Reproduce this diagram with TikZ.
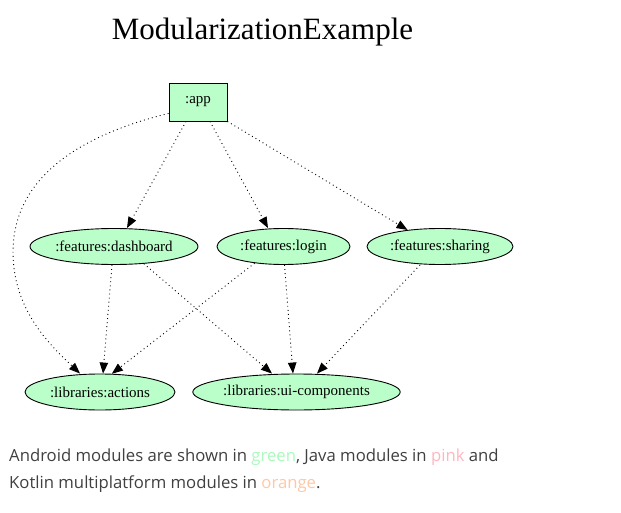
\documentclass[tikz,border=0pt]{standalone}
\usepackage{fontspec}
\setmainfont{Liberation Serif}
\newfontfamily\footfont{Open Sans}
\usetikzlibrary{arrows.meta,shapes.geometric}
\definecolor{modgreen}{RGB}{186,255,201}
\definecolor{txtgreen}{RGB}{170,250,190}
\definecolor{txtpink}{RGB}{255,182,193}
\definecolor{txtorange}{RGB}{255,200,165}
\definecolor{foottext}{RGB}{64,64,64}
\tikzset{
  modbox/.style={draw=black, line width=0.9pt, fill=modgreen, rectangle, inner sep=0pt,
    minimum width=58pt, minimum height=38pt, font=\fontsize{15}{18}\selectfont},
  modell/.style={draw=black, line width=0.9pt, fill=modgreen, ellipse, inner sep=0pt,
    minimum height=36pt, font=\fontsize{15}{18}\selectfont},
  dep/.style={line width=0.9pt, dash pattern=on 0.9pt off 3.2pt,
    -{Triangle[length=11pt,width=8.5pt]}},
  foot/.style={anchor=base west, inner sep=0pt, text=foottext,
    font=\footfont\fontsize{16.7}{20}\selectfont}
}
\begin{document}
\begin{tikzpicture}[x=1pt,y=-1pt]
\useasboundingbox[fill=white] (0,0) rectangle (621,513);
\node[anchor=base, inner sep=0pt, font=\fontsize{31}{36}\selectfont] (title) at (262.5,40) {ModularizationExample};

\node[modbox] (app) at (198,102) {:app};
\node[modell, minimum width=168pt] (dash) at (114,246.5) {:features:dashboard};
\node[modell, minimum width=133pt] (login) at (283.5,246.5) {:features:login};
\node[modell, minimum width=146pt] (sharing) at (440,246.5) {:features:sharing};
\node[modell, minimum width=150pt] (actions) at (100,392) {:libraries:actions};
\node[modell, minimum width=207pt] (ui) at (296.5,392) {:libraries:ui-components};

\draw[dep] ([yshift=8pt]app.south west) .. controls (60,140) and (13,190) .. (13,252)
  .. controls (13,310) and (50,345) .. ([xshift=-20pt]actions.north);
\draw[dep] ([xshift=-12pt]app.south) -- ([xshift=13pt]dash.north);
\draw[dep] ([xshift=12pt]app.south) -- ([xshift=-15.5pt]login.north);
\draw[dep] (app.south east) -- (sharing.153);
\draw[dep] ([xshift=-2pt]dash.south) -- ([xshift=3pt]actions.north);
\draw[dep] (dash.-30) -- ([xshift=-24.5pt]ui.north);
\draw[dep] (login.-150) -- (actions.57);
\draw[dep] ([xshift=1pt]login.south) -- ([xshift=-3.5pt]ui.north);
\draw[dep] ([xshift=-20pt]sharing.south) -- ([xshift=20.5pt]ui.north);

\node[foot] (line1) at (9,461) {Android modules are shown in \textcolor{txtgreen}{green}, Java modules in \textcolor{txtpink}{pink} and};
\node[foot] (line2) at (9,488) {Kotlin multiplatform modules in \textcolor{txtorange}{orange}.};
\end{tikzpicture}
\end{document}
